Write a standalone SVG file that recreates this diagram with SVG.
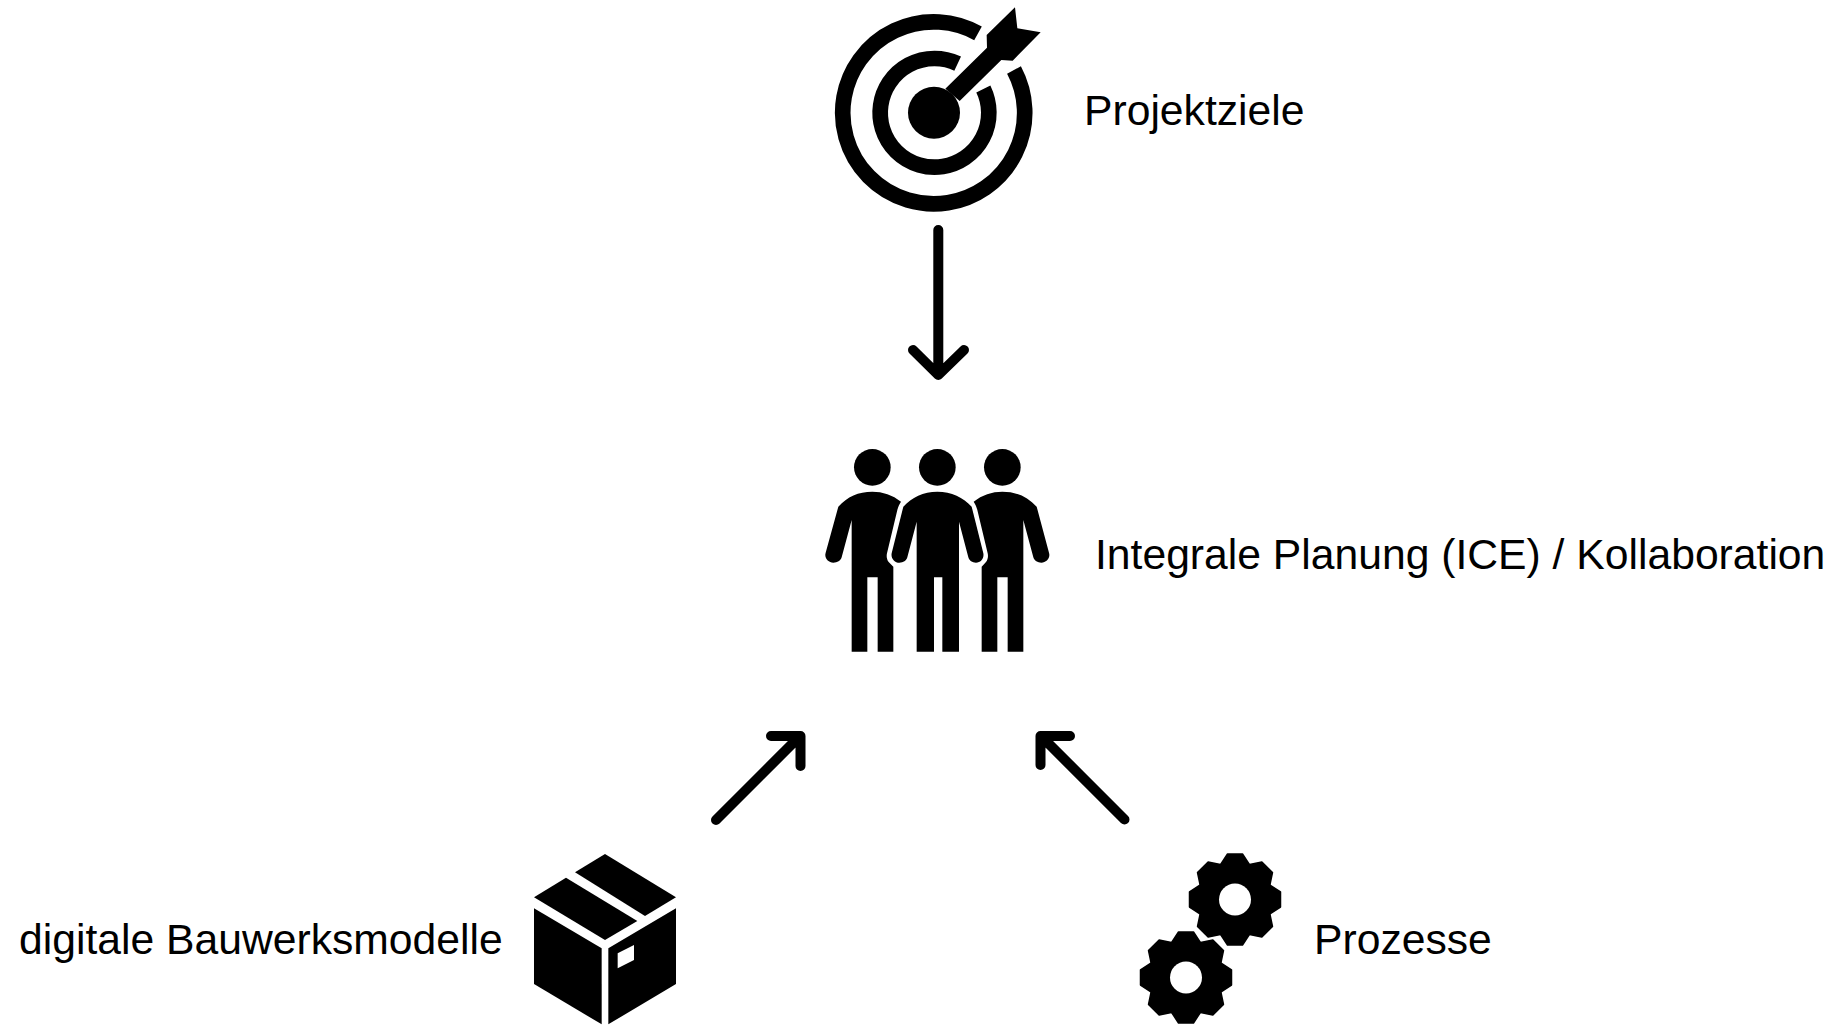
<svg xmlns="http://www.w3.org/2000/svg" xmlns:xlink="http://www.w3.org/1999/xlink" width="1834" height="1025" viewBox="0 0 1834 1025">
<style>
.lbl{font-family:"Liberation Sans",Arial,sans-serif;font-size:42.67px;fill:#000}
.ic{fill:#000}
.ring{fill:none;stroke:#000;stroke-width:47}
.arw{fill:none;stroke:#000;stroke-width:10;stroke-linecap:round;stroke-linejoin:round}
</style>
<defs>
<path id="tooth" d="M-15-34L-7.5-45.5H7.5L15-34Z" fill="#000" stroke="#000" stroke-width="1.5" stroke-linejoin="round"/>
<g id="gear">
<circle r="38" fill="#000"/>
<use xlink:href="#tooth" href="#tooth"/>
<use xlink:href="#tooth" href="#tooth" transform="rotate(45)"/>
<use xlink:href="#tooth" href="#tooth" transform="rotate(90)"/>
<use xlink:href="#tooth" href="#tooth" transform="rotate(135)"/>
<use xlink:href="#tooth" href="#tooth" transform="rotate(180)"/>
<use xlink:href="#tooth" href="#tooth" transform="rotate(225)"/>
<use xlink:href="#tooth" href="#tooth" transform="rotate(270)"/>
<use xlink:href="#tooth" href="#tooth" transform="rotate(315)"/>
<circle r="16" fill="#fff"/>
</g>
</defs>
<rect width="1834" height="1025" fill="#fff"/>
<g id="connectors">
<path class="arw" d="M938.3 230V375M913 350L938.3 375L964 350"/>
<path class="arw" d="M716 820L799 737M771 736H800.500V766"/>
<path class="arw" d="M1124.500 819.500L1042 737M1070 736H1040.500V765"/>
</g>
<g id="node-projektziele">
<g transform="translate(810 0) scale(.33333)">
<path class="ring" d="M504 100A273 273 0 1 0 612 210"/>
<path class="ring" d="M443 191A163 163 0 1 0 520 267"/>
<circle class="ic" cx="372" cy="338" r="78"/>
<path class="ic" d="M406 266L531 143L530 105L615 22L622 85L692 97L608 182L574 180L449 303Z"/>
</g>
<text class="lbl" x="1084" y="125">Projektziele</text>
</g>
<g id="node-integrale-planung">
<g transform="translate(810 430) scale(.33333)">
<circle class="ic" cx="187" cy="112" r="55"/>
<circle class="ic" cx="382" cy="112" r="55"/>
<circle class="ic" cx="577" cy="112" r="55"/>
<path class="ic" d="M187 185C145 185 112 200 85 230L47 368C42 385 55 398 70 398C82 398 92 392 95 382L125 270V665H172V442H203V665H250V410L236 396C230 388 229 378 231 370L262 240C264 232 268 222 273 215C248 195 218 185 187 185Z"/>
<path class="ic" d="M382 185C340 185 305 202 280 230L245 370C242 385 254 398 268 398C280 398 289 392 292 382L320 275V665H372V442H397V665H447V275L475 382C478 392 487 398 498 398C512 398 523 385 520 370L485 230C460 202 424 185 382 185Z"/>
<path class="ic" d="M577 185C546 185 516 195 491 215C496 222 500 232 502 240L533 370C535 378 534 388 528 396L515 410V665H562V442H593V665H640V270L670 382C673 392 683 398 694 398C709 398 722 385 717 368L680 230C652 200 619 185 577 185Z"/>
</g>
<text class="lbl" x="1095" y="569">Integrale Planung (ICE) / Kollaboration</text>
</g>
<g id="node-bauwerksmodelle">
<g transform="translate(520 840) scale(.33333)">
<path class="ic" d="M255 42L468 172L375 228L165 97Z"/>
<path class="ic" d="M138 113L352 243L255 300L42 172Z"/>
<path class="ic" d="M42 205L245 325V553L42 432Z"/>
<path class="ic" fill-rule="evenodd" d="M265 325L468 205V432L265 553ZM293 340V385L342 360V315Z"/>
</g>
<text class="lbl" x="19" y="954">digitale Bauwerksmodelle</text>
</g>
<g id="node-prozesse">
<use xlink:href="#gear" href="#gear" transform="translate(1235 899.5)"/>
<use xlink:href="#gear" href="#gear" transform="translate(1186 977.5)"/>
<text class="lbl" x="1314" y="954">Prozesse</text>
</g>
</svg>
